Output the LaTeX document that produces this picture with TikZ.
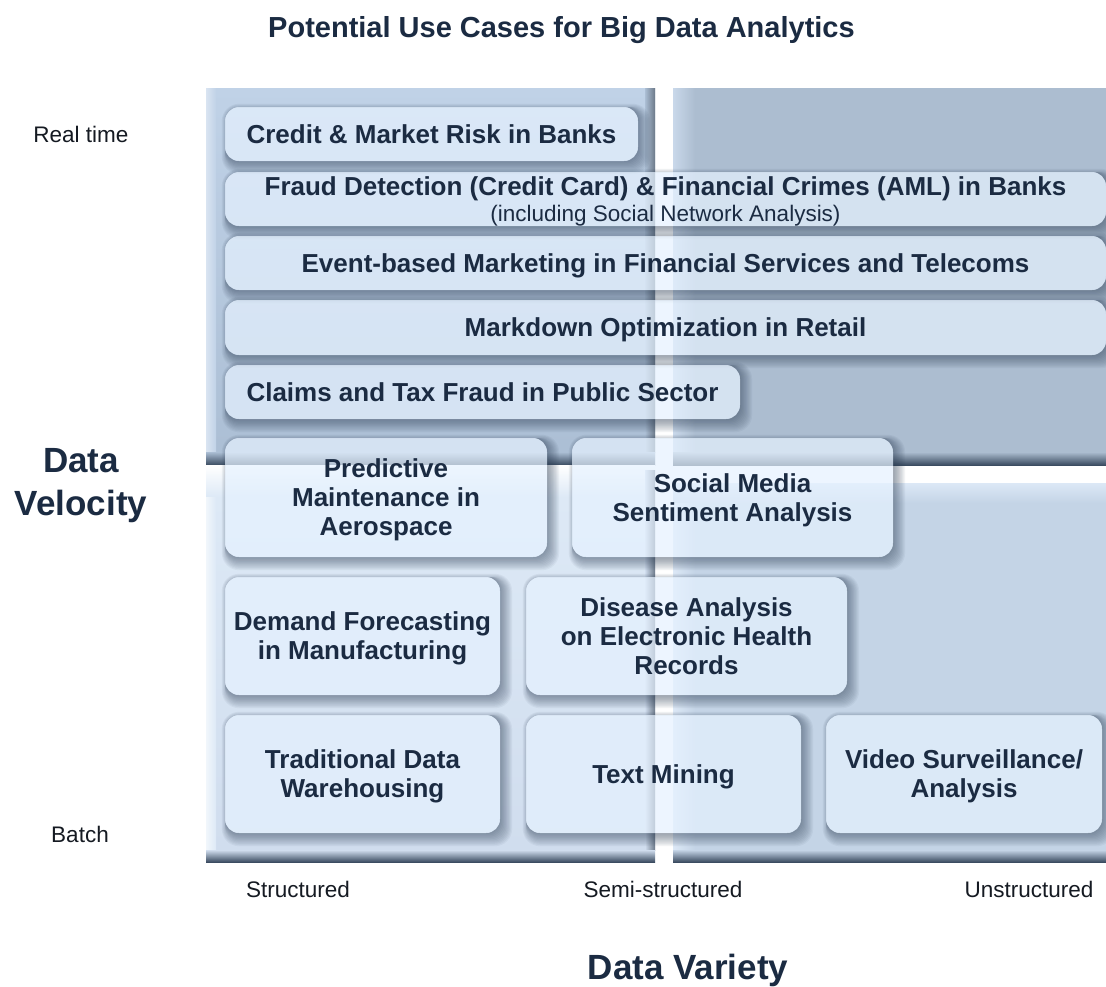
\documentclass[tikz,border=0pt]{standalone}
\usepackage{fontspec}
\setmainfont{Liberation Sans}
\usetikzlibrary{calc}

\definecolor{ink}{HTML}{1B2B42}
\definecolor{axisink}{HTML}{151A22}
\definecolor{edgedark}{HTML}{3B4C61}
\definecolor{shadowcol}{HTML}{2A3B52}
\definecolor{tlTop}{HTML}{C0D2E7}
\definecolor{tlBot}{HTML}{ABBED4}
\definecolor{trCol}{HTML}{ACBDD0}
\definecolor{trHi}{HTML}{C9D8EA}
\definecolor{blTop}{HTML}{DDE9F6}
\definecolor{blBot}{HTML}{D0DDEE}
\definecolor{brCol}{HTML}{C4D4E6}
\definecolor{brHi}{HTML}{DCE8F6}
\definecolor{boxfill}{HTML}{E6F2FF}

\pgfdeclarelayer{panels}
\pgfdeclarelayer{shades}
\pgfsetlayers{panels,shades,main}

\tikzset{
  usecase/.style={rounded corners=14pt, fill=boxfill, fill opacity=0.7,
    text opacity=1, text=ink, align=center, inner sep=0pt, outer sep=0pt,
    font=\fontsize{26}{29}\selectfont\bfseries, text depth=0pt},
  oneline/.style={text height=18.6pt},
  axislabel/.style={text=axisink, inner sep=0pt, font=\fontsize{22.5}{26}\selectfont},
  axistitle/.style={text=ink, inner sep=0pt, align=center,
    font=\fontsize{35}{43}\selectfont\bfseries},
}

\begin{document}
\begin{tikzpicture}[x=1pt,y=-1pt]
\useasboundingbox (0,0) rectangle (1106,986);

% ---- quadrant panels ----
\begin{pgfonlayer}{panels}
\fill[white] (0,0) rectangle (1106,986);
% top left
\shade[top color=tlTop, bottom color=tlBot] (206,88) rectangle (655,465);
\shade[left color=tlTop!60!white, right color=tlTop] (206,88) rectangle (216,452);
\shade[left color=tlBot, right color=edgedark!75] (645,88) rectangle (655,452);
\shade[top color=tlBot, bottom color=edgedark] (206,452) rectangle (655,465);
% top right
\fill[trCol] (673,88) rectangle (1106,465);
\shade[left color=trHi, right color=trCol] (673,88) rectangle (695,452);
\shade[top color=trCol, bottom color=edgedark] (673,452) rectangle (1106,465);
% bottom left
\fill[blTop] (206,465) rectangle (655,862);
\shade[top color=white, bottom color=blTop] (206,465) rectangle (655,497);
\shade[top color=blTop, bottom color=blBot] (206,497) rectangle (655,850);
\shade[left color=white!60!blTop, right color=blTop] (206,497) rectangle (216,850);
\shade[left color=blBot, right color=edgedark!75] (645,470) rectangle (655,850);
\shade[top color=blBot, bottom color=edgedark] (206,850) rectangle (655,862);
% bottom right
\fill[brCol] (673,483) rectangle (1106,862);
\shade[top color=brHi, bottom color=brCol] (673,483) rectangle (1106,503);
\shade[left color=brHi, right color=brCol] (673,503) rectangle (695,850);
\shade[top color=brCol, bottom color=edgedark] (673,850) rectangle (1106,862);
\end{pgfonlayer}

% ---- use cases ----
\node[usecase, oneline, minimum width=413pt, minimum height=54pt] (credit) at (431.5,134)
  {Credit \& Market Risk in Banks};
\node[usecase, minimum width=881pt, minimum height=54pt] (fraud) at (665.5,199)
  {\fontsize{26}{26}\selectfont Fraud Detection (Credit Card) \& Financial Crimes (AML) in Banks\\[-3pt]
   \fontsize{22.5}{24}\selectfont\mdseries (including Social Network Analysis)};
\node[usecase, oneline, minimum width=881pt, minimum height=54pt] (event) at (665.5,263)
  {Event-based Marketing in Financial Services and Telecoms};
\node[usecase, oneline, minimum width=881pt, minimum height=55pt] (markdown) at (665.5,327.5)
  {Markdown Optimization in Retail};
\node[usecase, oneline, minimum width=515pt, minimum height=54pt] (claims) at (482.5,392)
  {Claims and Tax Fraud in Public Sector};
\node[usecase, minimum width=322pt, minimum height=119pt] (predictive) at (386,497.5)
  {Predictive\\Maintenance in\\Aerospace};
\node[usecase, minimum width=321pt, minimum height=119pt] (social) at (732.5,497.5)
  {Social Media\\Sentiment Analysis};
\node[usecase, minimum width=275pt, minimum height=118pt] (demand) at (362.5,636)
  {Demand Forecasting\\in Manufacturing};
\node[usecase, minimum width=321pt, minimum height=118pt] (disease) at (686.5,636)
  {Disease Analysis\\on Electronic Health\\Records};
\node[usecase, minimum width=275pt, minimum height=118pt] (warehouse) at (362.5,774)
  {Traditional Data\\Warehousing};
\node[usecase, oneline, minimum width=275pt, minimum height=118pt] (textmining) at (663.5,774)
  {Text Mining};
\node[usecase, minimum width=276pt, minimum height=118pt] (video) at (964,774)
  {Video Surveillance/\\Analysis};

% soft shadows around the use-case boxes, falling mostly to the lower right
\begin{pgfonlayer}{shades}
\foreach \n in {credit,fraud,event,markdown,claims,predictive,social,
                demand,disease,warehouse,textmining,video}{
  \foreach \k in {1,...,11}{
    \pgfmathsetmacro\tl{max(0,0.8*(\k-7))}
    \pgfmathsetmacro\rr{14+\tl}
    \fill[shadowcol, fill opacity=0.05, even odd rule]
      [rounded corners=\rr pt]
      ($(\n.north west)+(-\tl,-\tl)$) rectangle ($(\n.south east)+(1.1*\k,1.2*\k)$)
      [rounded corners=14pt]
      (\n.north west) rectangle (\n.south east);
  }
}
\end{pgfonlayer}

% ---- title and axes ----
\node[text=ink, inner sep=0pt, text depth=0pt,
      font=\fontsize{29}{34}\selectfont\bfseries] (title) at (561.5,27)
  {Potential Use Cases for Big Data Analytics};
\node[axislabel] (realtime) at (81,134) {Real time};
\node[axislabel] (batch) at (80,834) {Batch};
\node[axistitle] (velocity) at (81,486) {Data\\Velocity};
\node[axislabel] (structured) at (298,889) {Structured};
\node[axislabel] (semi) at (663,889) {Semi-structured};
\node[axislabel] (unstructured) at (1029,889) {Unstructured};
\node[axistitle, text depth=0pt] (variety) at (688,967) {Data Variety};
\end{tikzpicture}
\end{document}
